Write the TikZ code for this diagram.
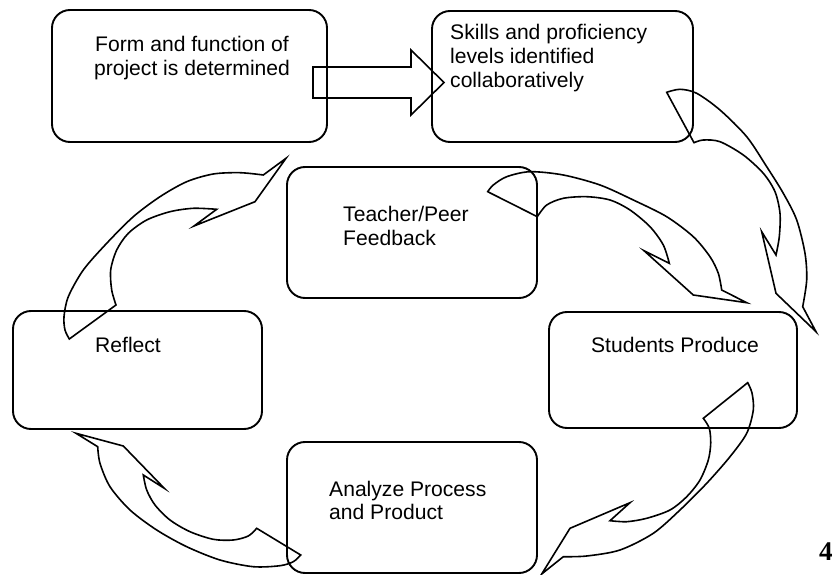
\documentclass[tikz,border=0pt]{standalone}
\usepackage{fontspec}
\setmainfont{Liberation Sans}
\newfontfamily\pagenumfont{Liberation Serif}
\begin{document}
\begin{tikzpicture}[x=1pt,y=-1pt,
  box/.style={draw, line width=1.9pt, rounded corners=18pt, inner sep=0pt},
  lbl/.style={inner sep=0pt, anchor=base west, font=\fontsize{21.1}{24}\selectfont},
  ctr/.style={inner sep=0pt, anchor=base, font=\fontsize{21.1}{24}\selectfont},
  blockarrow/.style={draw, line width=1.6pt, line join=miter}]
\useasboundingbox (0,0) rectangle (833,575);
\clip (0,0) rectangle (833,575);
% boxes
\node[box, minimum width=275pt, minimum height=132pt] (form) at (189.5,76) {};
\node[box, minimum width=261pt, minimum height=131pt] (skills) at (562.5,76.5) {};
\node[box, minimum width=250pt, minimum height=131pt] (feedback) at (412,232.5) {};
\node[box, minimum width=249pt, minimum height=118pt] (reflect) at (137.5,370) {};
\node[box, minimum width=248pt, minimum height=116pt] (produce) at (673,370) {};
\node[box, minimum width=250pt, minimum height=131pt] (analyze) at (412,507.5) {};
% texts
\node[ctr] (formA) at (192,52) {Form and function of};
\node[ctr] (formB) at (192,76) {project is determined};
\node[lbl] (skillsA) at (450,40) {Skills and proficiency};
\node[lbl] (skillsB) at (450,64) {levels identified};
\node[lbl] (skillsC) at (450,88) {collaboratively};
\node[lbl] (feedbackA) at (343,221) {Teacher/Peer};
\node[lbl] (feedbackB) at (343,245.5) {Feedback};
\node[lbl] (reflectA) at (95,352) {Reflect};
\node[ctr] (produceA) at (675,352) {Students Produce};
\node[lbl] (analyzeA) at (329,496) {Analyze Process};
\node[lbl] (analyzeB) at (329,519.5) {and Product};
\node[inner sep=0pt, anchor=base west, font=\pagenumfont\bfseries\fontsize{27}{27}\selectfont] (pagenum) at (819,560) {4};
% straight block arrow: form -> skills
\draw[blockarrow] (313,67) -- (411,67) -- (411,50) -- (444,82.5) -- (411,115) -- (411,98) -- (313,98) -- cycle;
% curved arrow: skills -> produce
\draw[blockarrow] (666.7,92.3) -- plot[smooth] coordinates {(694,142.7) (703.3,140) (720,141.7) (743.3,155) (763.3,173.3) (775,191.7) (780,213.3) (779.3,236.7) (776,255)}
  -- (761.7,231.7) -- (776,293.3) -- (816,331.7) -- (802.7,306.7)
  -- plot[smooth] coordinates {(802.7,306.7) (806.7,280) (805,253.3) (796.7,220) (783.3,193.3) (766.7,166.7) (746.7,136.7) (720,110) (696.7,93.3) (680,89.3) (666.7,92.3)} -- cycle;
% curved arrow: feedback -> produce
\draw[blockarrow] (487.7,191.7) -- plot[smooth] coordinates {(537.3,216.7) (546.7,205) (563.3,198.3) (586.7,196.7) (610,200) (630,210) (650,226.7) (663.3,245) (669.3,263.3)}
  -- (644,250.7) -- (693.3,295) -- (746.7,302.7) -- (721.7,290)
  -- plot[smooth] coordinates {(721.7,290) (718.3,273.3) (710,256.7) (693.3,236.7) (666.7,216.7) (633.3,200) (600,185) (563.3,175) (530,171.7) (506.7,176.7) (493.3,185) (487.7,191.7)} -- cycle;
% curved arrow: produce -> analyze
\draw[blockarrow] (747.7,382.7) -- plot[smooth] coordinates {(703.3,418.3) (709.3,428.3) (710.7,443.3) (708.3,460) (700,480) (686.7,496.7) (670,510) (646.7,518.3) (626.7,521.7) (610,520.7)}
  -- (630,502.7) -- (570,528.3) -- (541.7,574) -- (563.3,556.7)
  -- plot[smooth] coordinates {(563.3,556.7) (586.7,556) (620,550) (653.3,533.3) (680,510) (706.7,483.3) (730,456.7) (746.7,433.3) (753.3,410) (752,393) (747.7,382.7)} -- cycle;
% curved arrow: analyze -> reflect
\draw[blockarrow] (300.7,555) -- plot[smooth] coordinates {(256.7,528.3) (248.3,536) (233.3,540) (213.3,539.3) (190,531.7) (170,520) (155,505) (146.7,490) (143.3,475)}
  -- (164.3,488.3) -- (123.3,446) -- (76,433.3) -- (97.7,446.7)
  -- plot[smooth] coordinates {(97.7,446.7) (100,463.3) (110,486.7) (130,510) (156.7,530) (186.7,546.7) (220,560) (253.3,566.7) (280,565.7) (293.3,561.7) (300.7,555)} -- cycle;
% curved arrow: reflect -> form
\draw[blockarrow] (69.3,339) -- plot[smooth] coordinates {(116,305) (111.7,290) (110.7,270) (116.7,250) (128.3,233.3) (146.7,220) (170,211.7) (193.3,208.3) (216.7,209.3)}
  -- (194,226) -- (255,201.7) -- (286,158.3) -- (263.3,175)
  -- plot[smooth] coordinates {(263.3,175) (240,172.7) (213.3,174) (186.7,181.7) (160,196.7) (133.3,216.7) (106.7,243.3) (83.3,270) (68.3,296.7) (64,316.7) (65,330) (69.3,339)} -- cycle;
\end{tikzpicture}
\end{document}
